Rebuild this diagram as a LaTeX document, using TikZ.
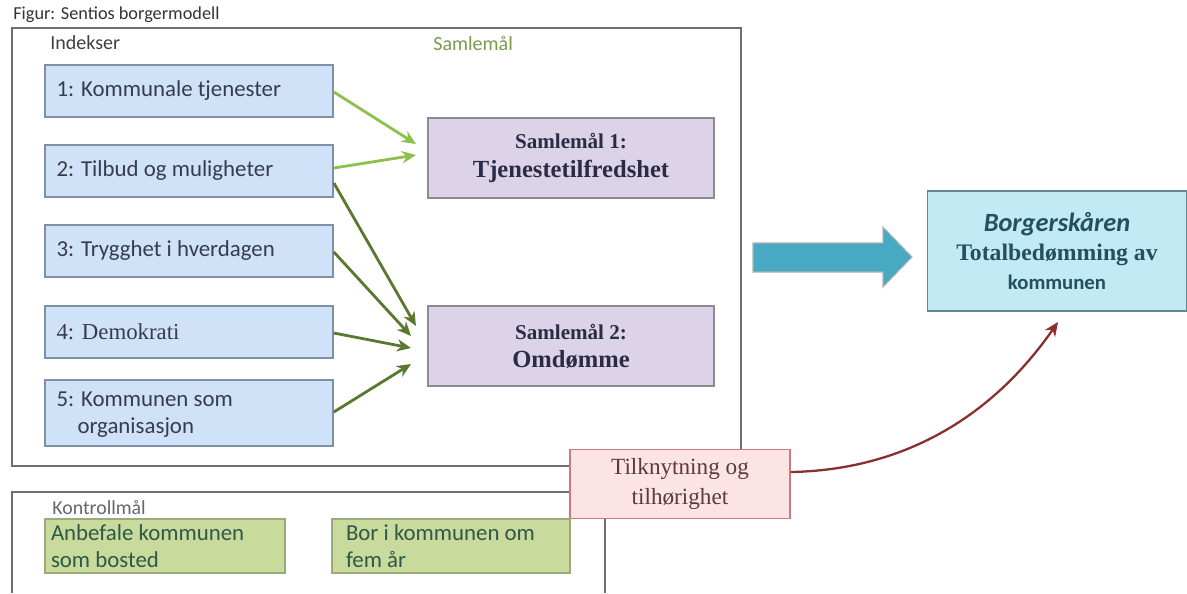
\documentclass[tikz,border=0pt]{standalone}
\usepackage{fontspec}
\setmainfont{Carlito}
\newfontfamily\cambria{Liberation Serif}
\usetikzlibrary{arrows.meta}

\definecolor{idxfill}{HTML}{CFE2F8}
\definecolor{idxline}{HTML}{7F8FA8}
\definecolor{idxtext}{HTML}{363C4C}
\definecolor{sumfill}{HTML}{DCD3E9}
\definecolor{sumline}{HTML}{8E8A94}
\definecolor{sumtext}{HTML}{2A2B45}
\definecolor{totfill}{HTML}{C2EAF5}
\definecolor{totline}{HTML}{62878F}
\definecolor{tottext}{HTML}{22505C}
\definecolor{bigarrow}{HTML}{48A9C3}
\definecolor{ctlfill}{HTML}{C8DA9C}
\definecolor{ctlline}{HTML}{9AAA7A}
\definecolor{ctltext}{HTML}{2F5848}
\definecolor{tilfill}{HTML}{FCE4E4}
\definecolor{tilline}{HTML}{C47C7C}
\definecolor{tiltext}{HTML}{5A3A3A}
\definecolor{lightgreen}{HTML}{8DC04C}
\definecolor{darkgreen}{HTML}{5A7830}
\definecolor{darkred}{HTML}{8A2E2E}
\definecolor{frame}{HTML}{6E6E6E}
\definecolor{samlegreen}{HTML}{7A9A4C}

\begin{document}
\begin{tikzpicture}[x=0.02cm,y=-0.02cm,
  idxbox/.style={draw=idxline, fill=idxfill, line width=1pt, minimum width=5.76cm,
    minimum height=1.04cm, text width=5.3cm, align=flush left, inner xsep=0.23cm,
    font=\fontsize{13}{15}\selectfont, text=idxtext},
  sumbox/.style={draw=sumline, fill=sumfill, line width=1pt, minimum width=5.72cm,
    minimum height=1.6cm, align=center, text=sumtext},
  ctlbox/.style={draw=ctlline, fill=ctlfill, line width=1pt,
    minimum height=1.08cm, align=flush left,
    font=\fontsize{13}{15.3}\selectfont, text=ctltext},
  lightarr/.style={draw=lightgreen, line width=1.6pt, -{Stealth[length=8pt,width=7pt]}},
  darkarr/.style={draw=darkgreen, line width=1.6pt, -{Stealth[length=8pt,width=7pt]}},
  framebox/.style={draw=frame, line width=1pt},
  label/.style={inner sep=0pt, anchor=west, text=black!75},
]
\useasboundingbox (0,0) rectangle (1187,593);

% caption and outer frames
\node[label, font=\fontsize{10.4}{12}\selectfont, text=black!80] (title) at (13,15) {Figur: Sentios borgermodell};
\draw[framebox] (12,28) rectangle (741,466);
\draw[framebox] (12,593) -- (12,492) -- (605,492) -- (605,593);
\node[label, font=\fontsize{11.4}{13}\selectfont] (indekser) at (50,43) {Indekser};
\node[label, font=\fontsize{11.4}{13}\selectfont, text=samlegreen] (samlemaal) at (433,43) {Samlemål};
\node[label, font=\fontsize{11.3}{13}\selectfont, text=black!60] (kontroll) at (52,508) {Kontrollmål};

% indices
\node[idxbox] (i1) at (189,91) {1: Kommunale tjenester};
\node[idxbox] (i2) at (189,171) {2: Tilbud og muligheter};
\node[idxbox] (i3) at (189,251) {3: Trygghet i hverdagen};
\node[idxbox] (i4) at (189,332) {{\cambria 4: Demokrati}};
\node[idxbox, text height=12pt, text depth=19pt] (i5) at (189,413) {5: Kommunen som\\[0pt]\hspace*{0.42cm}organisasjon};

% composite measures
\node[sumbox] (s1) at (571,158) {{\cambria\bfseries\fontsize{12}{14}\selectfont Samlemål 1:}\\[4pt]
  {\cambria\bfseries\fontsize{14}{16}\selectfont Tjenestetilfredshet}};
\node[sumbox] (s2) at (571,346) {{\cambria\bfseries\fontsize{12}{14}\selectfont Samlemål 2:}\\[4pt]
  {\cambria\bfseries\fontsize{14}{16}\selectfont Omdømme}};

% total score
\node[draw=totline, fill=totfill, line width=1pt, minimum width=5.18cm, minimum height=2.4cm,
  align=center, text=tottext] (tot) at (1057,251)
  {{\bfseries\itshape\fontsize{15}{17}\selectfont Borgerskåren}\\[4.5pt]
   {\cambria\bfseries\fontsize{13.5}{15}\selectfont Totalbedømming av}\\[4.5pt]
   {\bfseries\fontsize{11.8}{14}\selectfont kommunen}};

% block arrow towards the total score
\fill[bigarrow, draw=black!30, line width=0.6pt]
  (753,243) -- (883,243) -- (883,227) -- (912,257) -- (883,287) -- (883,272) -- (753,272) -- cycle;

% belonging
\node[draw=tilline, fill=tilfill, line width=1pt, minimum width=4.4cm, minimum height=1.38cm,
  align=center, text=tiltext, font=\cambria\fontsize{13.2}{16}\selectfont] (til) at (680,484)
  {Tilknytning og\\[1pt]tilhørighet};

% control measures
\node[ctlbox, minimum width=4.8cm, text width=4.56cm, inner xsep=0.12cm] (c1) at (165,546)
  {Anbefale kommunen\\som bosted};
\node[ctlbox, minimum width=4.76cm, text width=4.2cm, inner xsep=0.28cm] (c2) at (451,546)
  {Bor i kommunen om\\fem år};

% connectors
\coordinate (e1) at (416,144);
\coordinate (e2) at (416,155);
\coordinate (e3) at (416,326);
\coordinate (e4) at (411,336);
\coordinate (e5) at (411,348);
\coordinate (e6) at (411,364);
\draw[lightarr] (i1.east |- 0,92) -- (e1);
\draw[lightarr] (i2.east |- 0,168) -- (e2);
\draw[darkarr] (i2.east |- 0,183) -- (e3);
\draw[darkarr] (i3.east |- 0,252) -- (e4);
\draw[darkarr] (i4.east |- 0,333) -- (e5);
\draw[darkarr] (i5.east |- 0,412) -- (e6);

\coordinate (redend) at (1058,322);
\draw[darkred, line width=1.3pt, -{Stealth[length=8pt,width=7pt]}]
  (til.east |- 0,472) .. controls (900,470) and (990,420) .. (redend);
\end{tikzpicture}
\end{document}
